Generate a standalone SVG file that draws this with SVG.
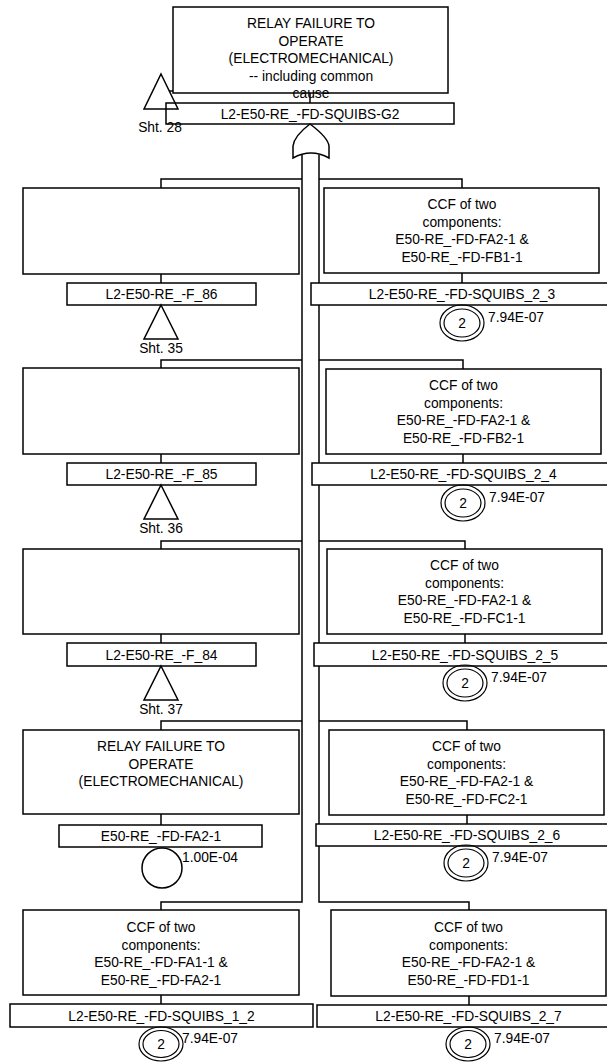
<svg xmlns="http://www.w3.org/2000/svg" width="607" height="1062" viewBox="0 0 607 1062">
<style>
.b{fill:#fff;stroke:#000;stroke-width:1.5}
.l{fill:none;stroke:#000;stroke-width:1.5}
.c{fill:none;stroke:#000;stroke-width:1.2}
text{font-family:"Liberation Sans",Arial,sans-serif;font-size:13.8px;fill:#000}
.m{text-anchor:middle}
</style>
<rect width="607" height="1062" fill="#fff"/>
<g id="connectors">
<path class="l" d="M310,93V103"/>
<path class="l" d="M169,91H179"/>
<path class="l" d="M302,155V902H161V910"/>
<path class="l" d="M319,155V902H469V910"/>
<path class="l" d="M302,179H161V188M302,360H161V368M302,541H161V549M302,721H161V730"/>
<path class="l" d="M319,179H462V188M319,360H463V369M319,541H465V549M319,721H467V730"/>
<path class="l" d="M161,274V283M161,454V463M161,634V643M161,814V825M161,995V1004"/>
<path class="l" d="M462,273V283M463,454V463M465,634V643M467,815V824M469,996V1005"/>
</g>
<g id="top">
<rect class="b" x="173" y="7" width="275" height="86"/>
<text class="m" x="311" y="28">RELAY FAILURE TO</text>
<text class="m" x="311" y="46">OPERATE</text>
<text class="m" x="311" y="63">(ELECTROMECHANICAL)</text>
<text class="m" x="311" y="81">-- including common</text>
<text class="m" x="311" y="98">cause</text>
</g>
<g id="transfer28">
<path class="l" d="M161,74L178,109H144Z" fill="#fff"/>
</g>
<g id="g2">
<rect class="b" x="166" y="103" width="288" height="21" fill="none" style="fill:none"/>
<text class="m" x="310" y="118.5">L2-E50-RE_-FD-SQUIBS-G2</text>
<text class="m" x="160" y="132">Sht. 28</text>
</g>
<g id="orgate">
<path class="b" d="M310,124C318,130 328,138 329,146L329,158Q311,148 293,158L293,146C294,138 302,130 310,124Z"/>
</g>
<g id="f86">
<rect class="b" x="23" y="188" width="276" height="86"/>
<rect class="b" x="67" y="283" width="189" height="22"/>
<text class="m" x="161.5" y="299">L2-E50-RE_-F_86</text>
<path class="l" d="M161,305L178,339H144Z"/>
<text class="m" x="161" y="352.5">Sht. 35</text>
</g>
<g id="f85">
<rect class="b" x="23" y="368" width="276" height="86"/>
<rect class="b" x="67" y="463" width="189" height="22"/>
<text class="m" x="161.5" y="479">L2-E50-RE_-F_85</text>
<path class="l" d="M161,485L178,519H144Z"/>
<text class="m" x="161" y="532.5">Sht. 36</text>
</g>
<g id="f84">
<rect class="b" x="23" y="549" width="276" height="85"/>
<rect class="b" x="67" y="643" width="189" height="23"/>
<text class="m" x="161.5" y="659.5">L2-E50-RE_-F_84</text>
<path class="l" d="M161,666L178,700H144Z"/>
<text class="m" x="161" y="713.5">Sht. 37</text>
</g>
<g id="fa21">
<rect class="b" x="23" y="730" width="276" height="84"/>
<text class="m" x="161" y="751">RELAY FAILURE TO</text>
<text class="m" x="161" y="768.5">OPERATE</text>
<text class="m" x="161" y="786">(ELECTROMECHANICAL)</text>
<rect class="b" x="59" y="825" width="203" height="22"/>
<text class="m" x="161" y="841">E50-RE_-FD-FA2-1</text>
<circle class="l" cx="162" cy="868" r="20"/>
<text x="182" y="862">1.00E-04</text>
</g>
<g id="sq12">
<rect class="b" x="23" y="910" width="276" height="85"/>
<text class="m" x="161" y="932">CCF of two</text>
<text class="m" x="161" y="949.5">components:</text>
<text class="m" x="161" y="967">E50-RE_-FD-FA1-1 &amp;</text>
<text class="m" x="161" y="984.5">E50-RE_-FD-FA2-1</text>
<rect class="b" x="10" y="1004" width="303" height="23"/>
<text class="m" x="161.5" y="1020.5">L2-E50-RE_-FD-SQUIBS_1_2</text>
<ellipse class="c" cx="161" cy="1044" rx="22" ry="17"/>
<ellipse class="c" cx="161" cy="1044" rx="18" ry="13.5"/>
<text class="m" x="161" y="1049">2</text>
<text x="182" y="1043">7.94E-07</text>
</g>
<g id="sq23">
<rect class="b" x="324" y="188" width="275" height="85"/>
<text class="m" x="462" y="209">CCF of two</text>
<text class="m" x="462" y="226.5">components:</text>
<text class="m" x="462" y="244">E50-RE_-FD-FA2-1 &amp;</text>
<text class="m" x="462" y="261.5">E50-RE_-FD-FB1-1</text>
<rect class="b" x="311" y="283" width="302" height="22"/>
<text class="m" x="462" y="299">L2-E50-RE_-FD-SQUIBS_2_3</text>
<ellipse class="c" cx="462" cy="323" rx="22" ry="18"/>
<ellipse class="c" cx="462" cy="323" rx="18" ry="14"/>
<text class="m" x="462" y="328">2</text>
<text x="488" y="322">7.94E-07</text>
</g>
<g id="sq24">
<rect class="b" x="326" y="369" width="275" height="85"/>
<text class="m" x="463.5" y="390">CCF of two</text>
<text class="m" x="463.5" y="407.5">components:</text>
<text class="m" x="463.5" y="425">E50-RE_-FD-FA2-1 &amp;</text>
<text class="m" x="463.5" y="442.5">E50-RE_-FD-FB2-1</text>
<rect class="b" x="312" y="463" width="303" height="22"/>
<text class="m" x="463.5" y="479">L2-E50-RE_-FD-SQUIBS_2_4</text>
<ellipse class="c" cx="463" cy="503" rx="22" ry="18"/>
<ellipse class="c" cx="463" cy="503" rx="18" ry="14"/>
<text class="m" x="463" y="508">2</text>
<text x="489" y="502">7.94E-07</text>
</g>
<g id="sq25">
<rect class="b" x="327" y="549" width="275" height="85"/>
<text class="m" x="464.5" y="570">CCF of two</text>
<text class="m" x="464.5" y="587.5">components:</text>
<text class="m" x="464.5" y="605">E50-RE_-FD-FA2-1 &amp;</text>
<text class="m" x="464.5" y="622.5">E50-RE_-FD-FC1-1</text>
<rect class="b" x="314" y="643" width="302" height="23"/>
<text class="m" x="465" y="659.5">L2-E50-RE_-FD-SQUIBS_2_5</text>
<ellipse class="c" cx="465" cy="683" rx="22" ry="18"/>
<ellipse class="c" cx="465" cy="683" rx="18" ry="14"/>
<text class="m" x="465" y="688">2</text>
<text x="491" y="682">7.94E-07</text>
</g>
<g id="sq26">
<rect class="b" x="329" y="730" width="275" height="85"/>
<text class="m" x="466.5" y="751">CCF of two</text>
<text class="m" x="466.5" y="768.5">components:</text>
<text class="m" x="466.5" y="786">E50-RE_-FD-FA2-1 &amp;</text>
<text class="m" x="466.5" y="803.5">E50-RE_-FD-FC2-1</text>
<rect class="b" x="316" y="824" width="302" height="22"/>
<text class="m" x="467" y="840">L2-E50-RE_-FD-SQUIBS_2_6</text>
<ellipse class="c" cx="466" cy="863" rx="22" ry="18"/>
<ellipse class="c" cx="466" cy="863" rx="18" ry="14"/>
<text class="m" x="466" y="868">2</text>
<text x="492" y="862">7.94E-07</text>
</g>
<g id="sq27">
<rect class="b" x="331" y="910" width="275" height="86"/>
<text class="m" x="468.5" y="932">CCF of two</text>
<text class="m" x="468.5" y="949.5">components:</text>
<text class="m" x="468.5" y="967">E50-RE_-FD-FA2-1 &amp;</text>
<text class="m" x="468.5" y="984.5">E50-RE_-FD-FD1-1</text>
<rect class="b" x="317" y="1005" width="303" height="22"/>
<text class="m" x="468.5" y="1021">L2-E50-RE_-FD-SQUIBS_2_7</text>
<ellipse class="c" cx="468" cy="1044" rx="22" ry="17"/>
<ellipse class="c" cx="468" cy="1044" rx="18" ry="13.5"/>
<text class="m" x="468" y="1049">2</text>
<text x="494" y="1043">7.94E-07</text>
</g>
</svg>
